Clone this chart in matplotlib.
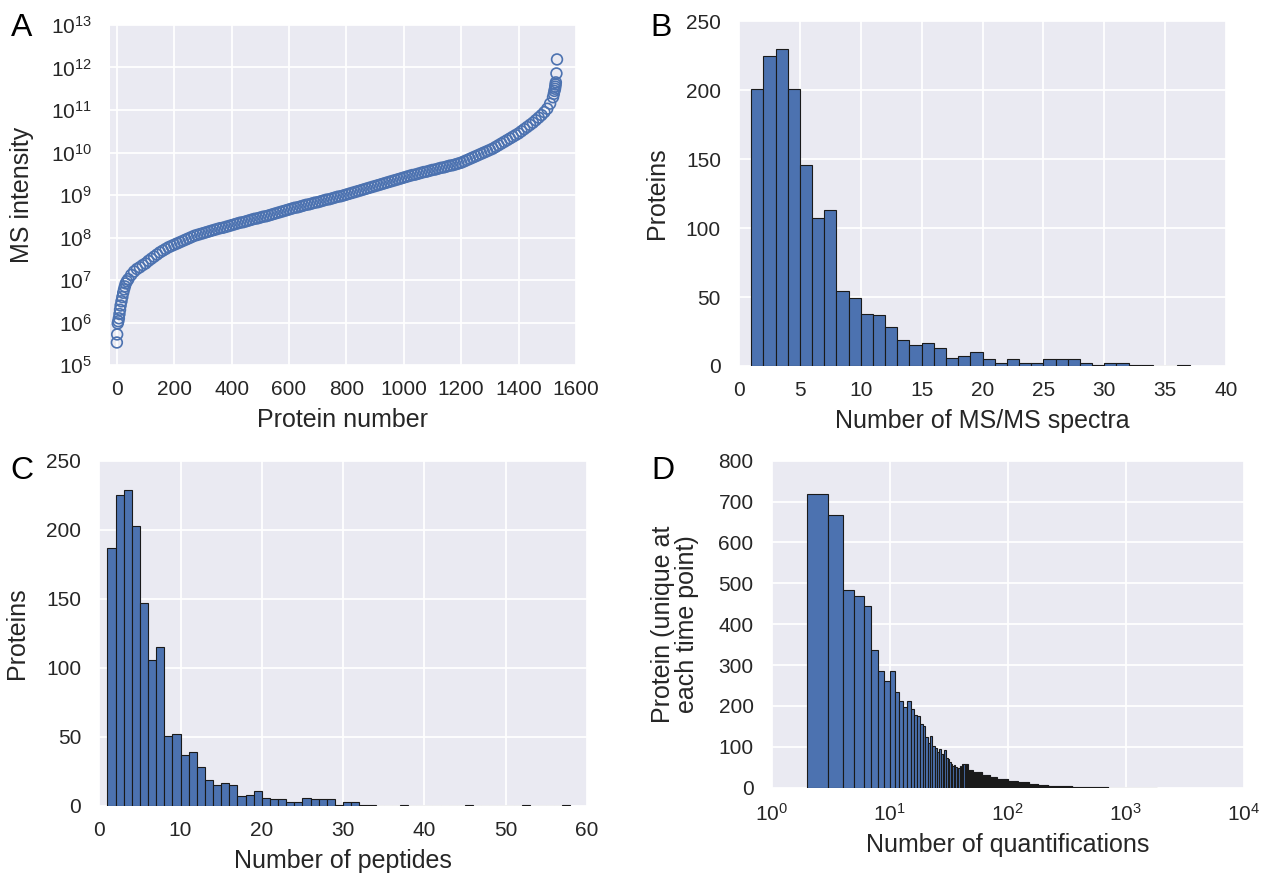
import numpy as np
import matplotlib
matplotlib.use('Agg')
import matplotlib.pyplot as plt
from matplotlib.ticker import LogLocator, NullLocator

# ---- data ----
# A: sorted MS intensity (log10) against protein number
rank_low = [0, 1, 3, 5, 7, 9, 11, 13, 16, 19, 22, 25, 28, 31, 35]
log_low = [5.53, 5.72, 5.98, 6.03, 6.10, 6.20, 6.30, 6.40, 6.50, 6.60,
           6.70, 6.78, 6.85, 6.92, 6.97]
rank_mid = list(range(40, 1530, 10))
log_mid = [7.02, 7.12, 7.20, 7.26, 7.30, 7.35, 7.39, 7.45, 7.50, 7.55,
           7.60, 7.65, 7.69, 7.73, 7.77, 7.80,
           7.83, 7.86, 7.89, 7.92, 7.95, 7.98, 8.01, 8.04, 8.06, 8.08,
           8.10, 8.12, 8.14, 8.16, 8.18, 8.20, 8.22, 8.23, 8.25, 8.27,
           8.29, 8.31, 8.33, 8.35, 8.36, 8.38, 8.40, 8.42, 8.44, 8.45,
           8.47, 8.49, 8.50, 8.52, 8.54, 8.56, 8.58, 8.60, 8.62, 8.64,
           8.66, 8.68, 8.70, 8.71, 8.73, 8.75, 8.77, 8.78, 8.80, 8.82,
           8.83, 8.85, 8.87, 8.89, 8.90, 8.92, 8.94, 8.96, 8.97, 8.99,
           9.01, 9.03, 9.05, 9.07, 9.09, 9.11, 9.13, 9.15, 9.17, 9.19,
           9.21, 9.23, 9.25, 9.27, 9.29, 9.31, 9.33, 9.35, 9.37, 9.39,
           9.41, 9.43, 9.45, 9.47, 9.48, 9.50, 9.52, 9.54, 9.55, 9.57,
           9.59, 9.60, 9.62, 9.64, 9.65, 9.67, 9.69, 9.70, 9.72, 9.74,
           9.76, 9.79, 9.82, 9.85, 9.88, 9.91, 9.94, 9.97, 10.00, 10.03,
           10.06, 10.09, 10.13, 10.17, 10.21, 10.25, 10.29, 10.33, 10.37, 10.41,
           10.45, 10.50, 10.55, 10.60, 10.65, 10.70, 10.76, 10.82, 10.88, 10.95,
           11.03, 11.15, 11.30]
rank_high = [1523, 1525, 1527, 1528, 1529, 1530, 1532, 1534]
log_high = [11.38, 11.45, 11.50, 11.55, 11.60, 11.65, 11.86, 12.19]

# B: proteins per number of MS/MS spectra (bins of width 1 starting at 1)
spectra_bins = list(range(1, 37))
spectra_counts = [201, 225, 230, 201, 146, 107, 113, 54, 49, 38,
                  37, 28, 19, 15, 17, 13, 6, 7, 10, 5,
                  2, 5, 2, 2, 5, 5, 5, 2, 1, 2,
                  2, 1, 1, 0, 0, 1]

# C: proteins per number of peptides (bins of width 1 starting at 1)
peptide_bins = list(range(1, 58))
peptide_counts = [187, 225, 229, 203, 147, 106, 115, 51, 52, 37,
                  39, 28, 19, 15, 17, 15, 7, 8, 11, 6,
                  5, 5, 3, 3, 6, 5, 5, 5, 1, 3,
                  3, 1, 1, 0, 0, 0, 1, 0, 0, 0,
                  0, 0, 0, 0, 1, 0, 0, 0, 0, 0,
                  0, 1, 0, 0, 0, 0, 1]

# D: proteins per number of quantifications (bins of width 1 from 2)
quant_bins = list(range(2, 41))
quant_counts = [718, 667, 483, 469, 445, 338, 285, 262, 285, 235,
                212, 197, 212, 192, 179, 176, 156, 151, 125, 110,
                126, 102, 96, 88, 94, 82, 82, 92, 73, 69,
                62, 58, 52, 55, 50, 48, 47, 52, 50]
# long tail, read as flat levels over ranges [start, next start)
tail_start = [41, 46, 51, 61, 71, 81, 101, 121, 151, 181, 221, 271, 351, 451, 701, 1851]
tail_level = [58, 44, 39, 30, 26, 21, 17, 13, 10, 7, 5, 3, 2, 1, 0]

BLUE = '#4C72B0'

plt.rcParams['font.family'] = ['Liberation Sans', 'DejaVu Sans']
plt.rcParams['mathtext.fontset'] = 'custom'
plt.rcParams['mathtext.rm'] = 'Liberation Sans'
plt.rcParams['mathtext.it'] = 'Liberation Sans:italic'
plt.rcParams['text.color'] = '#262626'
plt.rcParams['xtick.color'] = '#262626'
plt.rcParams['ytick.color'] = '#262626'
plt.rcParams['axes.labelcolor'] = '#262626'

LABEL = 18


def style(ax):
    ax.set_facecolor('#EAEAF2')
    for s in ax.spines.values():
        s.set_visible(False)
    ax.grid(True, color='white', linewidth=1.3)
    ax.set_axisbelow(True)
    ax.tick_params(axis='both', length=0, labelsize=15)
    ax.tick_params(axis='x', pad=11)
    ax.tick_params(axis='y', pad=13)


fig = plt.figure(figsize=(12.7, 8.8), dpi=100)

# A
axA = fig.add_axes([0.0866, 0.5852, 0.3669, 0.3864])
style(axA)
ranks = rank_low + rank_mid + rank_high
logs = log_low + log_mid + log_high
axA.scatter(ranks, 10 ** np.array(logs), s=60, facecolors='none',
            edgecolors=BLUE, linewidths=1.2)
axA.set_yscale('log')
axA.set_ylim(1e5, 1e13)
axA.set_xlim(-24, 1600)
axA.set_xticks(range(0, 1601, 200))
axA.yaxis.set_major_locator(LogLocator(base=10, numticks=20))
axA.yaxis.set_minor_locator(NullLocator())
axA.set_xlabel('Protein number', fontsize=LABEL, labelpad=6)
axA.set_ylabel('MS intensity', fontsize=LABEL, labelpad=12)

# B
axB = fig.add_axes([0.5819, 0.5841, 0.3835, 0.392])
style(axB)
axB.bar(spectra_bins, spectra_counts, width=1, align='edge', color=BLUE,
        edgecolor='#1a1a1a', linewidth=0.8)
axB.set_xlim(0, 40)
axB.set_ylim(0, 250)
axB.set_xticks(range(0, 41, 5))
axB.set_yticks(range(0, 251, 50))
axB.set_xlabel('Number of MS/MS spectra', fontsize=LABEL, labelpad=6)
axB.set_ylabel('Proteins', fontsize=LABEL, labelpad=12)

# C
axC = fig.add_axes([0.0782, 0.0841, 0.3838, 0.3924])
style(axC)
axC.bar(peptide_bins, peptide_counts, width=1, align='edge', color=BLUE,
        edgecolor='#1a1a1a', linewidth=0.8)
axC.set_xlim(0, 60)
axC.set_ylim(0, 250)
axC.set_xticks(range(0, 61, 10))
axC.set_yticks(range(0, 251, 50))
axC.set_xlabel('Number of peptides', fontsize=LABEL, labelpad=6)
axC.set_ylabel('Proteins', fontsize=LABEL, labelpad=12)

# D
axD = fig.add_axes([0.6076, 0.1049, 0.3719, 0.3716])
style(axD)
tail_bins = []
tail_counts = []
for i, lev in enumerate(tail_level):
    for b in range(tail_start[i], tail_start[i + 1]):
        tail_bins.append(b)
        tail_counts.append(lev)
axD.bar(quant_bins + tail_bins, quant_counts + tail_counts, width=1,
        align='edge', color=BLUE, edgecolor='#1a1a1a', linewidth=0.8)
axD.set_xscale('log')
axD.set_xlim(1, 1e4)
axD.set_ylim(0, 800)
axD.xaxis.set_major_locator(LogLocator(base=10, numticks=10))
axD.xaxis.set_minor_locator(NullLocator())
axD.set_yticks(range(0, 801, 100))
axD.set_xlabel('Number of quantifications', fontsize=LABEL, labelpad=6)
axD.set_ylabel('Protein (unique at\neach time point)', fontsize=LABEL,
               labelpad=14, linespacing=1.0)

# panel letters
for x, y, t in [(0.009, 0.985, 'A'), (0.512, 0.985, 'B'),
                (0.008, 0.482, 'C'), (0.513, 0.482, 'D')]:
    fig.text(x, y, t, fontsize=23, ha='left', va='top', color='black')

fig.savefig('out.png', dpi=100)
